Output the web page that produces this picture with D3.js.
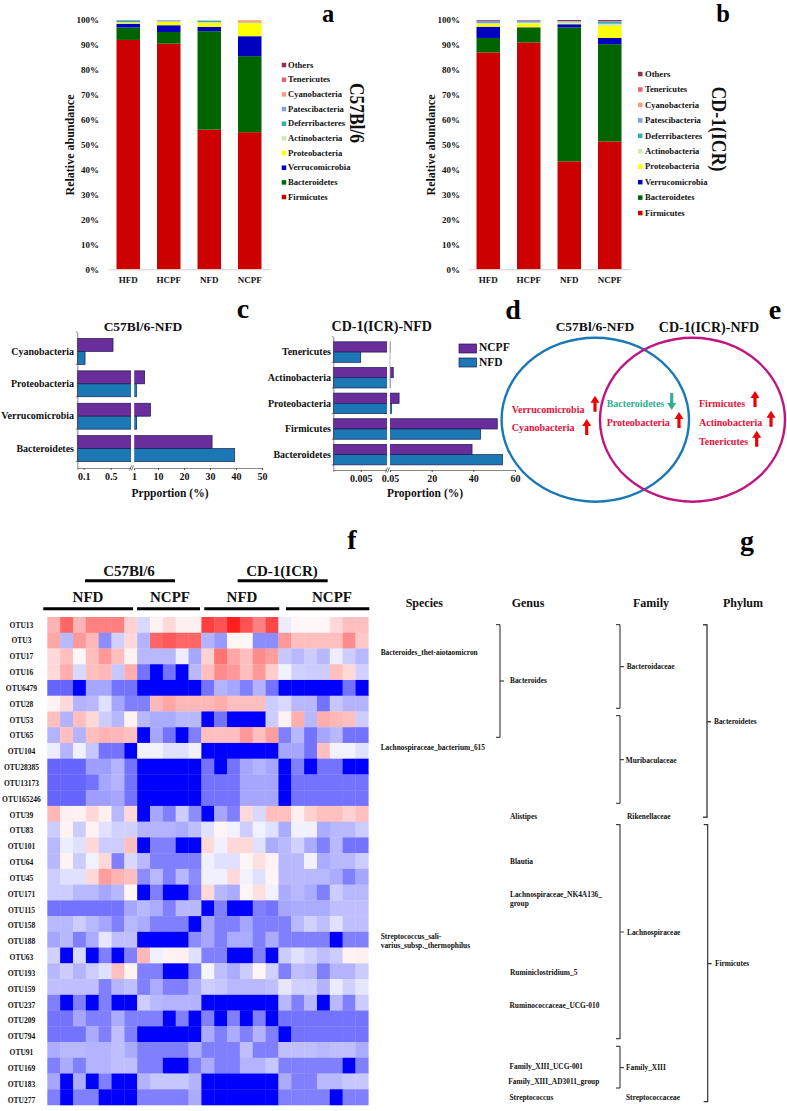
<!DOCTYPE html>
<html><head><meta charset="utf-8">
<script src="https://cdn.jsdelivr.net/npm/d3@7"></script>
<style>
html,body{margin:0;padding:0;background:#fff}
svg{display:block}
text{font-family:"Liberation Serif","Times New Roman",serif;font-weight:700;fill:#111}
</style></head><body><svg id="c" width="787" height="1111"></svg>
<script>
// ---------- DATA ----------
const phyla = ["Firmicutes","Bacteroidetes","Verrucomicrobia","Proteobacteria","Actinobacteria","Deferribacteres","Patescibacteria","Cyanobacteria","Tenericutes","Others"];
const diets = ["HFD","HCPF","NFD","NCPF"];
const yTicks = [0,10,20,30,40,50,60,70,80,90,100];
const stackA = [
  [92,90.5,56,55],[5,4.7,39.5,30.5],[1.5,2.7,1.7,8],[0.4,1.4,1.8,5.3],[0.2,0.1,0.1,0.1],
  [0.6,0.1,0.6,0.1],[0.2,0.4,0.1,0.1],[0,0.1,0.1,0.8],[0,0,0,0],[0.1,0,0,0]];
const stackB = [
  [87,91,43.3,51.3],[5.8,6,53.7,39],[4.5,0.1,1.3,2.5],[1.2,1.5,0.2,4.8],[0.2,0.4,0.6,0.9],
  [0.1,0.2,0.2,0.8],[0.8,0.5,0.2,0.2],[0.1,0.1,0.1,0],[0,0,0,0],[0.3,0.2,0.4,0.5]];

const c57Phyla = ["Cyanobacteria","Proteobacteria","Verrucomicrobia","Bacteroidetes"];
const c57Ncpf = [0.55,5,7.2,30.8];
const c57Nfd = [0.12,1.9,2,39.5];
const c57Ticks = [0.1,0.5,1,10,20,30,40,50];
const cdPhyla = ["Tenericutes","Actinobacteria","Proteobacteria","Firmicutes","Bacteroidetes"];
const cdNcpf = [0.05,1.6,4.4,51.5,39.4];
const cdNfd = [0.005,0.05,0.7,43.5,54];
const cdTicks = [0.005,0.05,20,40,60];

const otus = ["OTU13","OTU3","OTU17","OTU16","OTU6479","OTU28","OTU53","OTU65","OTU104","OTU28385","OTU13173","OTU165246","OTU39","OTU83","OTU101","OTU64","OTU45","OTU171","OTU115","OTU158","OTU188","OTU63","OTU193","OTU159","OTU237","OTU209","OTU794","OTU91","OTU169","OTU183","OTU277"];
const B=-100;
const heat = [
[30,60,30,50,50,50,18, -15,5,15,6,6, 75,68,88,68,50,72, -7,3,3,3,15,25,25],
[35,-28,40,28,-45,-18,15, -30,60,65,60,60, -30,-40,3,3,-45,-45, 40,25,25,25,25,45,22],
[15,25,3,25,40,25,5, -28,-28,-28,-7,-35, 18,55,35,25,45,38, -22,-28,-20,-28,-7,-20,-28],
[15,32,-15,25,28,-22,32, -55,B,-55,B,-28, 25,45,40,25,40,20, -6,-18,-20,-20,25,15,-18],
[-60,-60,B,-35,-35,-55,-55, B,B,B,B,B, -55,-30,-35,-50,-30,-55, B,B,B,B,B,-55,B],
[5,15,-30,-28,-12,-35,-50, -50,28,35,28,28, 28,32,25,25,25,-20, -15,-28,-28,-55,-22,-30,-30],
[25,-30,25,15,-20,-28,5, -28,-33,-33,-28,-28, B,-55,B,B,B,-20, 5,32,-28,32,28,25,-20],
[-30,25,-30,25,30,28,25, B,-35,-55,B,-50, 25,25,25,40,25,38, -50,-28,-55,-35,-28,-55,-55],
[-7,-30,-6,-22,-55,-55,B, -5,-5,-12,-12,-6, B,B,B,B,B,B, -35,-35,-55,25,-5,-5,-12],
[-60,-60,-60,-38,-38,-30,-55, B,B,B,B,B, -55,B,-55,-35,-30,-35, B,-50,B,-55,-55,B,B],
[-60,-60,-60,-55,-35,-30,-55, B,B,B,B,B, -55,-55,-55,-35,-35,-35, B,-55,-55,-55,-55,-55,-55],
[-60,-60,-60,-38,-38,-35,-55, B,B,B,B,B, -55,-55,-55,-35,-35,-35, B,-55,-55,-55,-55,-55,-55],
[28,6,5,15,6,-28,15, B,-35,-50,-20,-45, B,-35,-50,15,-15,25, 25,6,18,25,25,18,25],
[-20,5,-20,5,-12,-18,-18, -30,-30,-30,-33,-25, -12,4,-5,-20,-5,-12, -33,-5,-5,-33,-28,-28,-20],
[-28,-7,-12,15,-20,-20,25, B,-50,-50,B,B, 15,-6,15,15,-12,-33, -28,-18,-33,-50,-28,-55,-55],
[-28,5,-20,-5,15,-50,-15, -28,-50,-50,-50,-50, -6,-12,-12,4,12,5, -28,-28,-5,-33,-28,-28,-20],
[-20,-12,-12,15,38,30,25, -45,-28,-50,-28,-45, -6,-6,15,-5,-12,4, -28,-28,-28,-28,-33,-50,-35],
[-20,-20,-28,-28,-35,-28,3, B,-50,B,B,-50, 15,-28,-33,4,12,-5, -33,-28,-33,-50,-20,-28,-28],
[-55,-55,-55,-55,-55,-55,-35, -28,-33,-50,-28,-28, B,-50,B,B,-50,-55, -35,-33,-33,-33,-25,-25,-25],
[-28,-28,-20,-28,-35,-50,-28, -33,-50,-50,-50,B, -35,-50,-50,-35,-50,-50, -50,-28,-18,-25,-12,-25,-25],
[-35,-28,-50,-33,-10,-25,-25, B,B,B,B,-45, -35,-50,-33,-33,-50,-33, -50,-50,-50,-50,B,-50,-50],
[-18,B,-15,B,-50,B,-50, 28,-6,5,6,-12, -50,-50,B,B,-50,B, -20,-12,-18,-25,-20,5,6],
[-28,-20,-30,-20,-12,25,5, -50,-50,B,B,-50, -4,-25,-33,-20,4,-18, -50,-25,-28,-50,-30,-30,-20],
[-25,-25,-25,-25,-50,-30,-25, -50,-33,-50,-50,-33, -20,-22,-28,-28,-28,-25, -10,-18,-18,-30,-8,-18,-10],
[-50,B,-50,B,-50,B,B, -20,-28,-30,-30,-30, B,B,B,B,B,B, -28,-50,-28,B,-28,-50,-20],
[-55,-55,-35,-50,-50,-33,-50, -50,-50,B,-50,B, -50,B,-50,B,-50,B, -55,-55,-55,-55,-55,-55,-55],
[-55,-55,-55,-33,-50,-25,-50, B,B,B,B,B, -33,-50,-33,-50,-30,-50, B,-55,-55,-55,-55,-55,-55],
[-33,-28,-28,-30,-30,-25,-33, -50,-50,-50,-50,-33, -50,-50,-50,-25,-50,-50, -25,-25,-25,-28,-25,-25,-33],
[-50,-33,-50,-30,-30,-25,-25, -50,-50,B,B,-50, -33,-50,-50,-30,-30,-22, -50,-50,-50,-50,-50,B,-50],
[-35,B,-33,B,-50,B,B, -30,-22,-22,-22,-30, B,B,B,B,B,B, -33,-50,-50,-28,-28,-22,-22],
[-50,B,-50,-50,B,B,B, -50,-50,-50,-50,-33, B,B,B,B,B,B, -50,-50,-50,-50,B,-50,-50]];

// ---------- STYLE ----------
const phylaColors = ["#cc0000","#006400","#0000c0","#ffff00","#cfeab0","#30b0a8","#7f9fd8","#f0a080","#e8607a","#953050"];
const PURPLE="#6a2d9c", BLUE="#1b78b5", EDGE="#1c1c50";
const svg = d3.select("#c");
function T(x,y,s,size,anchor,fill,extra){
  const e = svg.append("text").attr("x",x).attr("y",y).attr("font-size",size)
    .attr("text-anchor",anchor||"start").text(s);
  if(fill) e.style("fill",fill);
  if(extra) e.attr("transform",extra);
  return e;
}

// ---------- STACKED BARS ----------
function stacked(rows,x0,x1,labelX,titleX,legSwatch,legText,legTop,legBottom){
  const data = diets.map((d,i)=>{const o={d};phyla.forEach((p,j)=>o[p]=rows[j][i]);return o;});
  const series = d3.stack().keys(phyla)(data);
  const x = d3.scaleBand().domain(diets).range([x0,x1]).paddingInner(0.42).paddingOuter(0.21);
  const y = d3.scaleLinear().domain([0,100]).range([269.3,20]);
  const g = svg.append("g");
  g.selectAll("g.s").data(series).join("g").attr("fill",(d,i)=>phylaColors[i])
    .selectAll("rect").data(d=>d).join("rect")
    .attr("x",d=>x(d.data.d)).attr("width",x.bandwidth())
    .attr("y",d=>y(d[1])).attr("height",d=>Math.max(0,y(d[0])-y(d[1])));
  const ax = g.append("g").attr("transform",`translate(0,269.3)`)
    .call(d3.axisBottom(x).tickSize(0).tickPadding(7));
  ax.select(".domain").attr("stroke","#d9d0c8");
  ax.selectAll("text").attr("font-size",9).attr("font-family",null).style("fill","#111");
  const ay = g.append("g").attr("transform",`translate(${labelX+3},0)`)
    .call(d3.axisLeft(y).tickValues(yTicks).tickSize(0).tickPadding(3).tickFormat(d=>d+"%"));
  ay.select(".domain").remove();
  ay.selectAll("text").attr("font-size",9).attr("font-family",null).style("fill","#111");
  T(0,0,"Relative abundance",12,"middle",null,`translate(${titleX},145) rotate(-90)`);
  const ly = d3.scalePoint().domain(phyla).range([legBottom,legTop]);
  phyla.forEach((p,i)=>{
    svg.append("rect").attr("x",legSwatch).attr("y",ly(p)-2.2).attr("width",4.5).attr("height",4.5).attr("fill",phylaColors[i]);
    T(legText,ly(p)+2.8,p,8.6);
  });
}
stacked(stackA,108,270,99,74,281.7,288,65,197);
stacked(stackB,468,630,460,435,638,645,74,213);

// ---------- BROKEN-AXIS BARS ----------
function broken(cats,ncpf,nfd,ticks,xDomain,xRange,y0,y1,brk,brkW,labelX,fontSize){
  const x = d3.scaleLinear().domain(xDomain).range(xRange);
  const y = d3.scaleBand().domain(cats).range([y0,y1]).padding(0.2);
  const x0=xRange[0];
  const gb = svg.append("g");
  cats.forEach((c,i)=>{
    gb.append("rect").attr("x",x0).attr("y",y(c)).attr("width",x(ncpf[i])-x0).attr("height",y.bandwidth()/2).attr("fill",PURPLE).attr("stroke",EDGE).attr("stroke-width",.7);
    gb.append("rect").attr("x",x0).attr("y",y(c)+y.bandwidth()/2).attr("width",x(nfd[i])-x0).attr("height",y.bandwidth()/2).attr("fill",BLUE).attr("stroke",EDGE).attr("stroke-width",.7);
  });
  const isCd = cats[0]==="Tenericutes";
  gb.append("rect").attr("x",brk).attr("y",y0+y.step()*(isCd?0:1)).attr("width",brkW).attr("height",y1-y0-y.step()*(isCd?0:1)).attr("fill","#fff");
  if(isCd){
    gb.append("line").attr("x1",brk+brkW).attr("x2",brk+brkW).attr("y1",y(cats[0])).attr("y2",y(cats[1])+y.bandwidth()).attr("stroke","#999").attr("stroke-width",.7);
  }
  const ax = svg.append("g").attr("transform",`translate(0,${y1})`)
    .call(d3.axisBottom(x).tickValues(ticks).tickSize(2).tickPadding(3).tickFormat(String));
  ax.select(".domain").attr("stroke","#555").attr("stroke-width",.7);
  ax.selectAll("line").attr("stroke","#555");
  ax.selectAll("text").attr("font-size",fontSize).attr("font-family",null).style("fill","#111");
  const ay = svg.append("g").attr("transform",`translate(${x0},0)`)
    .call(d3.axisLeft(y).tickSize(0).tickPadding(x0-labelX));
  ay.select(".domain").attr("stroke","#555").attr("stroke-width",.7);
  ay.selectAll("text").attr("font-size",fontSize).attr("font-family",null).style("fill","#111");
  d3.range(cats.length+1).forEach(i=>{
    svg.append("line").attr("x1",x0-1.5).attr("x2",x0).attr("y1",y0+i*y.step()).attr("y2",y0+i*y.step()).attr("stroke","#555").attr("stroke-width",.7);
  });
  svg.append("rect").attr("x",brk).attr("y",y1-1).attr("width",brkW).attr("height",2).attr("fill","#fff");
  [0,2].forEach(d=>svg.append("line").attr("x1",brk-1.5+d).attr("x2",brk+.5+d).attr("y1",y1+2.5).attr("y2",y1-2.5).attr("stroke","#333").attr("stroke-width",.7));
}
broken(c57Phyla,c57Ncpf,c57Nfd,c57Ticks,
  [0,0.1,0.5,1,10,20,30,40,50],[77.3,83.7,110.7,134,158,184,210,236,262],332,468,131,3.2,74,10);
broken(cdPhyla,cdNcpf,cdNfd,cdTicks,
  [0,0.005,0.05,20,40,60],[333.3,360.7,390,431.7,473.3,515],336.7,470,387,3,331,10);

T(143,331,"C57Bl/6-NFD",13.5,"middle");
T(170,497,"Prpportion (%)",11.5,"middle");
T(381.7,331,"CD-1(ICR)-NFD",14,"middle");
T(425,497,"Proportion (%)",11.5,"middle");
[["NCPF",PURPLE,344,351],["NFD",BLUE,358,365.7]].forEach(l=>{
  svg.append("rect").attr("x",459).attr("y",l[2]).attr("width",17.5).attr("height",9).attr("fill",l[1]).attr("stroke",EDGE).attr("stroke-width",.7);
  T(479,l[3],l[0],11.5);
});

// ---------- VENN ----------
svg.append("ellipse").attr("cx",595.3).attr("cy",419.7).attr("rx",93.7).attr("ry",82).attr("fill","none").attr("stroke","#1b78b5").attr("stroke-width",2.4);
svg.append("ellipse").attr("cx",692.5).attr("cy",419.7).attr("rx",92.5).attr("ry",82).attr("fill","none").attr("stroke","#c0157f").attr("stroke-width",2.4);
T(595,331,"C57Bl/6-NFD",13.5,"middle");
T(709,332.3,"CD-1(ICR)-NFD",14,"middle");
const RED="#e8103a", GRN="#30b090";
[["Verrucomicrobia",511.7,413,RED],["Cyanobacteria",511.7,431,RED],["Bacteroidetes",606.7,407,GRN],
 ["Proteobacteria",606.7,426,RED],["Firmicutes",699,407,RED],["Actinobacteria",699,426,RED],["Tenericutes",699,445,RED]]
 .forEach(a=>T(a[1],a[2],a[0],10,"start",a[3]));
function arrow(x,yFrom,yTo,col){
  const dir = yTo<yFrom?1:-1;
  svg.append("path").attr("fill",col)
    .attr("d",`M${x-1.6},${yFrom}L${x-1.6},${yTo+dir*7}L${x-4.5},${yTo+dir*7}L${x},${yTo}L${x+4.5},${yTo+dir*7}L${x+1.6},${yTo+dir*7}L${x+1.6},${yFrom}Z`);
}
arrow(595,411.7,395.7,"#f00000");arrow(586.7,435,419,"#f00000");arrow(671.7,393,410,GRN);
arrow(679,428,412,"#f00000");arrow(755,407,391,"#f00000");arrow(771,426.7,410.7,"#f00000");arrow(756.7,446.7,430.7,"#f00000");

// ---------- HEATMAP ----------
const color = d3.scaleLinear().domain([-100,0,100]).range(["#0000ff","#ffffff","#ff0000"]);
const hx = d3.scaleBand().domain(d3.range(25)).range([47.3,368.3]);
const hy = d3.scaleBand().domain(otus).range([617,1105]);
svg.append("g").selectAll("g").data(heat).join("g")
  .attr("transform",(d,i)=>`translate(0,${hy(otus[i])})`)
  .selectAll("rect").data(d=>d).join("rect")
  .attr("x",(d,i)=>hx(i)).attr("width",hx.bandwidth()+.3).attr("height",hy.bandwidth()+.3)
  .attr("fill",d=>color(d));
const ly = d3.scalePoint().domain(otus).range([625,1100]);
otus.forEach(o=>T(21.5,ly(o)+2.5,o,7.5,"middle"));
function hdr(label,cx,by,x1,x2,ly2){
  T(cx,by,label,15,"middle");
  svg.append("line").attr("x1",x1).attr("x2",x2).attr("y1",ly2).attr("y2",ly2).attr("stroke","#000").attr("stroke-width",3);
}
hdr("C57Bl/6",129,575.7,85,175,580.7);
hdr("CD-1(ICR)",282,575.7,237.7,327.7,580.7);
hdr("NFD",88,602,43.3,133,608.7);
hdr("NCPF",170,602,137,200,608.7);
hdr("NFD",242,602,204.3,279.3,608.7);
hdr("NCPF",332,602,286,369.3,608.7);

// ---------- TAXONOMY ----------
[["Species",424.3],["Genus",528],["Family",651],["Phylum",743]].forEach(a=>T(a[1],606.7,a[0],12,"middle"));
const taxa = [
 ["Bacteroides_thet-aiotaomicron",380.7,652.3],["Lachnospiraceae_bacterium_615",380.7,747.7],
 ["Streptococcus_sali-",380.7,936.3],["varius_subsp._thermophilus",380.7,945],
 ["Bacteroides",510,680.3],["Alistipes",510,816],["Blautia",510,861.7],["Lachnospiraceae_NK4A136_",510,894.7],["group",510,903.7],
 ["Ruminiclostridium_5",510,972.7],["Ruminococcaceae_UCG-010",509.5,1005.7],["Family_XIII_UCG-001",509.5,1066],["Family_XIII_AD3011_group",508.3,1081.3],["Streptococcus",509.5,1097.7],
 ["Bacteroidaceae",626.7,666.7],["Muribaculaceae",625.7,760],["Rikenellaceae",627,816],["Lachnospiraceae",627,932.3],["Family_XIII",626,1067.7],["Streptococcaceae",626,1097.7],
 ["Bacteroidetes",714,721.7],["Firmicutes",715,963.7]];
taxa.forEach(a=>T(a[1],a[2]+2.5,a[0],7.4));
function brace(x,y1,y2,mid,w,col){
  svg.append("path").attr("fill","none").attr("stroke",col||"#222").attr("stroke-width",w||1)
    .attr("d",`M${x-4},${y1}L${x},${y1}L${x},${y2}L${x-4},${y2}M${x},${mid}L${x+4},${mid}`);
}
brace(500,624.7,737.3,681);
brace(620,624.7,708.3,666.7);
brace(620,715.7,803.3,759.7);
brace(620,824.7,1038.7,932,1.2,"#444");
brace(620,1046.3,1088,1067.7);
brace(707,624.7,817.3,721.7,1.4,"#444");
brace(707.7,824.7,1101.7,963.7,1.2,"#333");

// ---------- PANEL LETTERS ----------
[["a",328,22,24.5],["b",723,22,24.5],["c",243,318,28],["d",513,319,28],["e",775,319,28],["f",352,549,28],["g",747,550,28]]
  .forEach(a=>T(a[1],a[2],a[0],a[3],"middle","#000"));
T(0,0,"C57Bl/6",21,"middle",null,"translate(350,113) rotate(90)").attr("textLength",60).attr("lengthAdjust","spacingAndGlyphs");
T(0,0,"CD-1(ICR)",20,"middle",null,"translate(712,129) rotate(90)").attr("textLength",85).attr("lengthAdjust","spacingAndGlyphs");
</script></body></html>
